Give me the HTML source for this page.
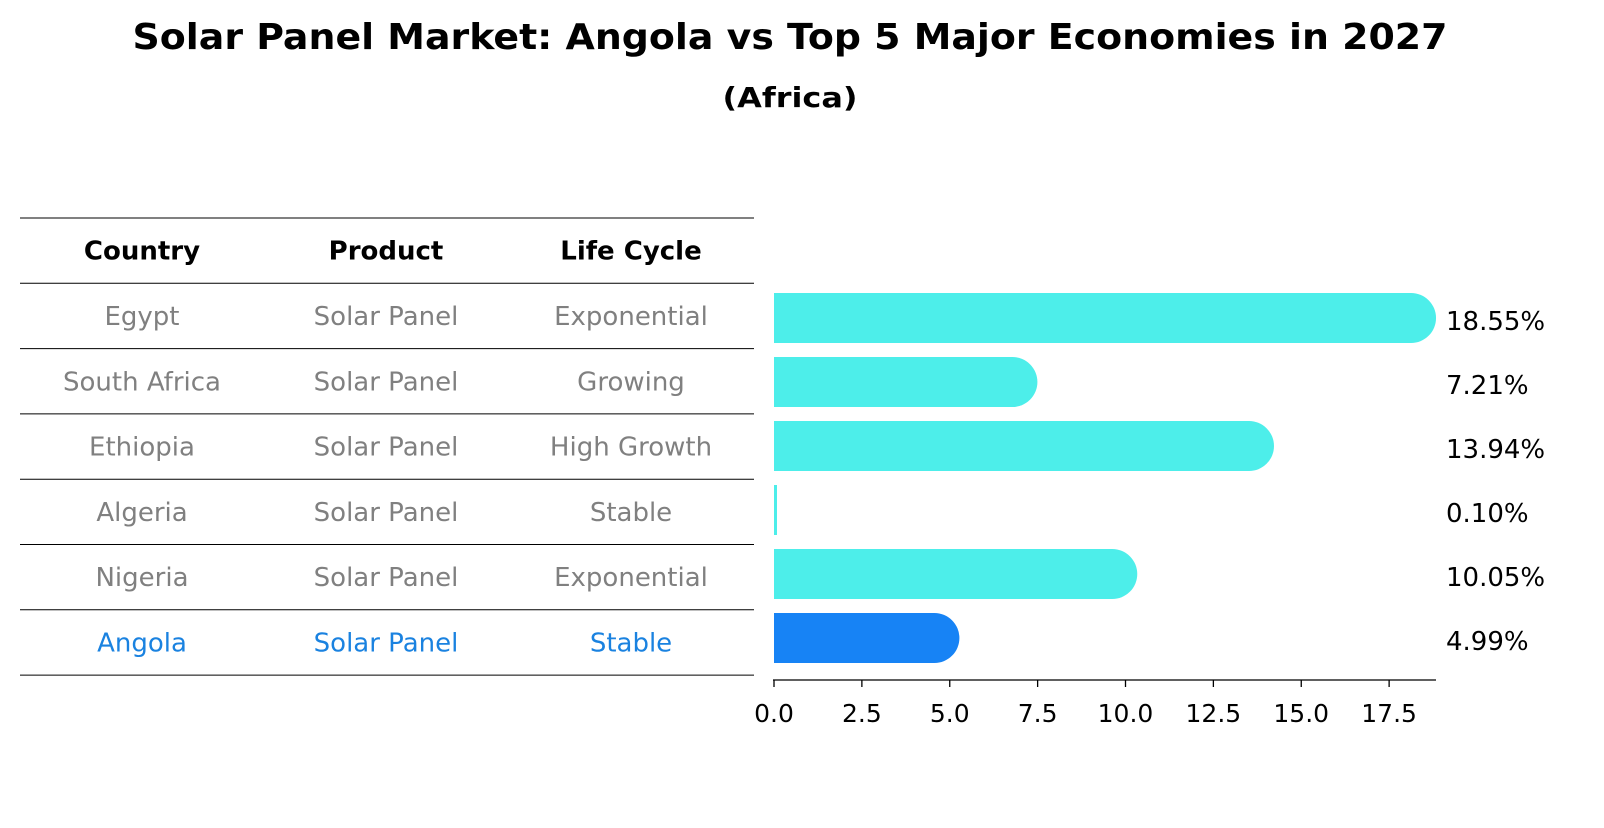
<!DOCTYPE html>
<html><head><meta charset="utf-8"><style>
body{margin:0;background:#fff;font-family:"Liberation Sans","DejaVu Sans",sans-serif;}
</style></head><body>
<svg width="1604" height="823" xmlns="http://www.w3.org/2000/svg" font-family="DejaVu Sans, Liberation Sans, sans-serif">
<text x="790" y="49" text-anchor="middle" font-size="36" font-weight="bold" textLength="1315" lengthAdjust="spacingAndGlyphs">Solar Panel Market: Angola vs Top 5 Major Economies in 2027</text>
<text x="790" y="107" text-anchor="middle" font-size="28" font-weight="bold" textLength="135" lengthAdjust="spacingAndGlyphs">(Africa)</text>
<g id="table"></g>
<g id="bars"></g>
</svg>
<script>
const countries=["Egypt","South Africa","Ethiopia","Algeria","Nigeria","Angola"];
const products=["Solar Panel","Solar Panel","Solar Panel","Solar Panel","Solar Panel","Solar Panel"];
const lifeCycles=["Exponential","Growing","High Growth","Stable","Exponential","Stable"];
const values=[18.55,7.21,13.94,0.10,10.05,4.99];
const valueLabels=["18.55%","7.21%","13.94%","0.10%","10.05%","4.99%"];
const xTicks=[0,2.5,5,7.5,10,12.5,15,17.5];
const NS="http://www.w3.org/2000/svg";
function mk(t,a,p){const e=document.createElementNS(NS,t);for(const k in a)e.setAttribute(k,a[k]);p.appendChild(e);return e;}
const tbl=document.getElementById('table'), bars=document.getElementById('bars');
const rowTop=218,rowH=65.3,colX=[142,386,631];
const x=v=>774+v*35.15;
const yc=i=>318+i*64;
for(let i=0;i<=7;i++){const l=mk('line',{x1:20,x2:754,y1:rowTop+i*rowH,y2:rowTop+i*rowH,stroke:'#000','stroke-width':1},tbl);

}
["Country","Product","Life Cycle"].forEach((h,j)=>{const t=mk('text',{x:colX[j],y:rowTop+rowH/2+9,'text-anchor':'middle','font-size':'26','font-weight':'bold'},tbl);t.textContent=h;

});
countries.forEach((c,i)=>{const col=i==countries.length-1?'#1a82e0':'#808080';
[c,products[i],lifeCycles[i]].forEach((s,j)=>{const t=mk('text',{x:colX[j],y:rowTop+rowH*(i+1)+rowH/2+9,'text-anchor':'middle','font-size':'26',fill:col},tbl);t.textContent=s;

});});
values.forEach((v,i)=>{const last=i==values.length-1;const w=Math.max(x(v)-x(0),1);const h=50;const r=v<0.5?0:25;
const ext=r?10:0;const X0=x(0),X1=X0+w+ext,Y0=yc(i)-h/2;
const d=r?`M${X0},${Y0}H${X1-r}A${r},${r} 0 0 1 ${X1-r},${Y0+h}H${X0}Z`:`M${X0},${Y0}H${X0+3}V${Y0+h}H${X0}Z`;
const p=mk('path',{d:d,fill:last?'#1783f5':'#4deeea'},bars);


const t=mk('text',{x:1446,y:yc(i)+12,'font-size':'26'},bars);t.textContent=valueLabels[i];

});
const ax=mk('line',{x1:773,x2:1436,y1:680,y2:680,stroke:'#000','stroke-width':1.3},bars);


xTicks.forEach(v=>{const l=mk('line',{x1:x(v),x2:x(v),y1:680,y2:687,stroke:'#000','stroke-width':1.3},bars);


const t=mk('text',{x:x(v),y:722,'text-anchor':'middle','font-size':'25'},bars);t.textContent=v.toFixed(1);

});
</script>
</body></html>
